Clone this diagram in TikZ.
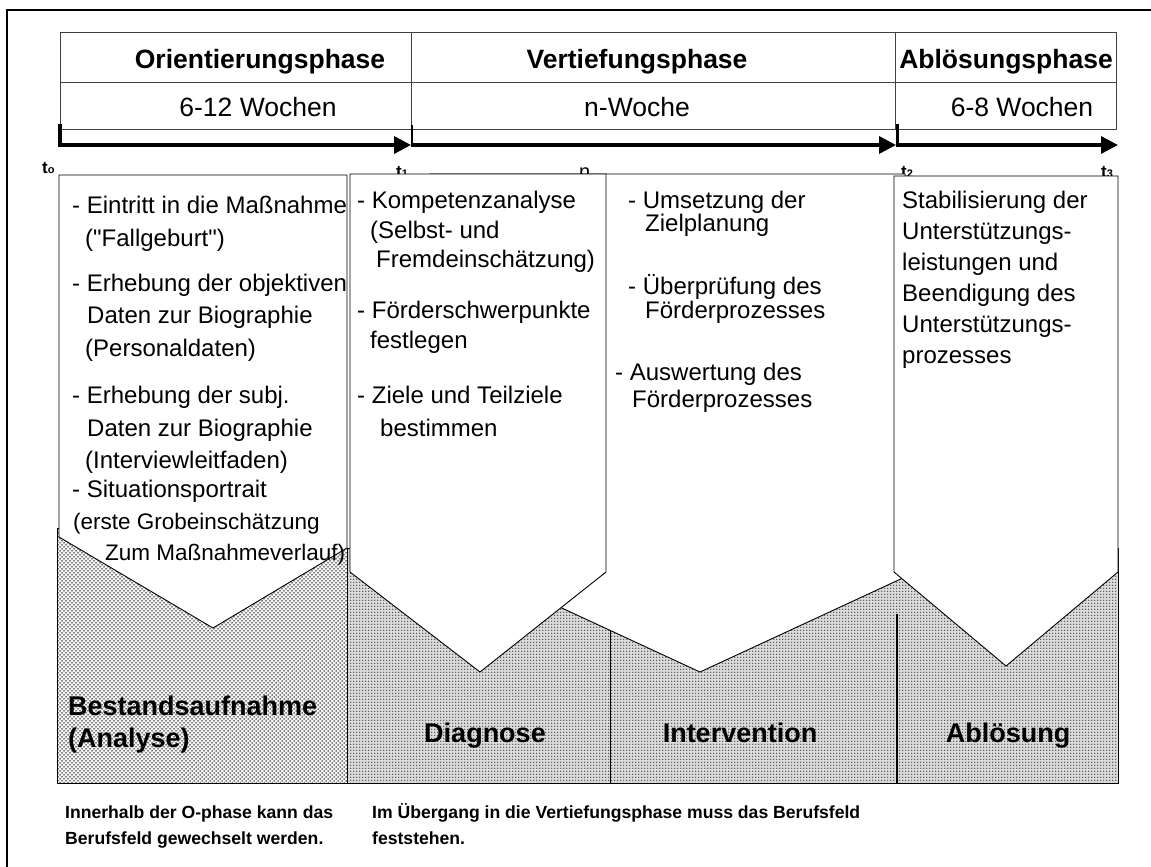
\documentclass[tikz,border=0pt]{standalone}
\usepackage{fontspec}
\setmainfont{Liberation Sans}[Ligatures=TeXOff]
\usetikzlibrary{arrows.meta,patterns}

\pgfdeclarepatternformonly{sparsedots}{\pgfqpoint{-1pt}{-1pt}}{\pgfqpoint{3pt}{3pt}}{\pgfqpoint{4pt}{4pt}}{%
  \pgfpathcircle{\pgfqpoint{0pt}{0pt}}{0.75pt}%
  \pgfpathcircle{\pgfqpoint{2pt}{2pt}}{0.75pt}%
  \pgfusepath{fill}}
\pgfdeclarepatternformonly{gridots}{\pgfqpoint{-1pt}{-1pt}}{\pgfqpoint{2pt}{2pt}}{\pgfqpoint{3pt}{3pt}}{%
  \pgfpathcircle{\pgfqpoint{0pt}{0pt}}{0.75pt}%
  \pgfusepath{fill}}

\tikzset{
  tbl/.style={draw=black!75, line width=1pt},
  axisline/.style={line width=3.4pt, -{Triangle[length=17pt,width=17pt]}},
  hdr/.style={font=\fontsize{26.5}{30}\selectfont\bfseries, anchor=base, inner sep=0pt},
  hdrsub/.style={font=\fontsize{26.5}{30}\selectfont, anchor=base, inner sep=0pt},
  tlab/.style={font=\fontsize{17}{17}\selectfont\bfseries, anchor=base west, inner sep=0pt},
  phasebox/.style={draw=black, line width=0.9pt, fill=white},
  bodytxt/.style={font=\fontsize{24}{28}\selectfont, anchor=base west, inner sep=0pt},
  smalltxt/.style={font=\fontsize{22.5}{26}\selectfont, anchor=base west, inner sep=0pt},
  stagelbl/.style={font=\fontsize{27}{30}\selectfont\bfseries, inner sep=0pt},
  notetxt/.style={font=\fontsize{17.6}{20}\selectfont\bfseries, anchor=base west, inner sep=0pt},
}

\newcommand{\tsub}[1]{{\fontsize{11}{11}\selectfont #1}}

\begin{document}
\begin{tikzpicture}[x=1pt,y=-1pt]
\useasboundingbox (0,0) rectangle (1151,867);
\fill[white] (0,0) rectangle (1151,867);

% outer frame (runs past the right and bottom edges)
\draw[line width=2pt] (1151,10) -- (7,10) -- (7,867);

% header table
\draw[tbl] (60,33) rectangle (1116,129);
\draw[tbl] (60,82) -- (1116,82);
\draw[tbl] (411,33) -- (411,129);
\draw[tbl] (895,33) -- (895,129);
\node[hdr] (h1) at (260,68) {Orientierungsphase};
\node[hdr] (h2) at (637,68) {Vertiefungsphase};
\node[hdr] (h3) at (1006,68) {Ablösungsphase};
\node[hdrsub] (w1) at (258,116) {6-12 Wochen};
\node[hdrsub] (w2) at (637,116) {n-Woche};
\node[hdrsub] (w3) at (1022,116) {6-8 Wochen};

% time axis
\coordinate (a0) at (60,145);
\coordinate (a1) at (411,145);
\coordinate (a2) at (896,145);
\coordinate (a3) at (1118,145);
\draw[axisline] (a0) -- (a1);
\draw[axisline] (a1) -- (a2);
\draw[axisline] (a2) -- (a3);
\draw[line width=3.6pt] (60,124) -- (60,147);
\draw[line width=1.5pt] (412,125) -- (412,145);
\draw[line width=3pt] (897,124) -- (897,145);

% time labels
\node[tlab] (t0) at (42,173) {t\tsub{o}};
\node[tlab] (t1) at (396,177) {t\tsub{1}};
\node[font=\fontsize{20}{20}\selectfont, anchor=base west, inner sep=0pt] (tn) at (579,178) {n};
\node[tlab] (t2) at (901,177) {t\tsub{2}};
\node[tlab] (t3) at (1101,177) {t\tsub{3}};

% patterned stage regions
\fill[gray!8] (57,528) rectangle (347,783);
\fill[pattern=sparsedots, pattern color=black] (57,528) rectangle (347,783);
\fill[gray!28] (347,548) rectangle (1118,784);
\fill[pattern=gridots, pattern color=black!80] (347,548) rectangle (1118,784);
\draw[line width=0.8pt] (57,783) -- (57,528) -- (347,528);
\draw[line width=0.8pt] (347,548) -- (1118,548) -- (1118,784);
\draw[line width=1.6pt] (57,783.5) -- (1118,783.5);
\draw[line width=1pt] (347,548) -- (347,783);
\draw[line width=1pt] (610,628) -- (610,783);
\draw[line width=2.6pt] (897,614) -- (897,783);

% phase boxes (pentagons)
\draw[phasebox] (430,174) -- (905,174) -- (905,577) -- (700,672) -- (430,547) -- cycle;
\draw[phasebox] (350,174) -- (606,174) -- (606,572) -- (480,672) -- (350,572) -- cycle;
\draw[phasebox] (59,175) -- (347,175) -- (347,548) -- (213,628) -- (59,537) -- cycle;
\draw[phasebox] (894,176) -- (1118,176) -- (1118,572) -- (1006,666) -- (894,572) -- cycle;

% box 1 text
\node[bodytxt] (b1a) at (72,213) {- Eintritt in die Maßnahme};
\node[bodytxt] (b1b) at (85,246) {("Fallgeburt")};
\node[bodytxt] (b1c) at (72,291) {- Erhebung der objektiven};
\node[bodytxt] (b1d) at (87,323) {Daten zur Biographie};
\node[bodytxt] (b1e) at (85,356) {(Personaldaten)};
\node[bodytxt] (b1f) at (72,403) {- Erhebung der subj.};
\node[bodytxt] (b1g) at (87,436) {Daten zur Biographie};
\node[bodytxt] (b1h) at (85,468) {(Interviewleitfaden)};
\node[bodytxt] (b1i) at (72,497) {- Situationsportrait};
\node[smalltxt] (b1j) at (73,529) {(erste Grobeinschätzung};
\node[smalltxt] (b1k) at (105,560) {Zum Maßnahmeverlauf)};

% box 2 text
\node[bodytxt] (b2a) at (357,208) {- Kompetenzanalyse};
\node[bodytxt] (b2b) at (370,238) {(Selbst- und};
\node[bodytxt] (b2c) at (376,267) {Fremdeinschätzung)};
\node[bodytxt] (b2d) at (357,318) {- Förderschwerpunkte};
\node[bodytxt] (b2e) at (370,348) {festlegen};
\node[bodytxt] (b2f) at (357,403) {- Ziele und Teilziele};
\node[bodytxt] (b2g) at (380,436) {bestimmen};

% box 3 text
\node[bodytxt] (b3a) at (628,208) {- Umsetzung der};
\node[bodytxt] (b3b) at (645,231) {Zielplanung};
\node[bodytxt] (b3c) at (628,294) {- Überprüfung des};
\node[bodytxt] (b3d) at (645,318) {Förderprozesses};
\node[bodytxt] (b3e) at (615,380) {- Auswertung des};
\node[bodytxt] (b3f) at (632,407) {Förderprozesses};

% box 4 text
\node[bodytxt] (b4a) at (902,208) {Stabilisierung der};
\node[bodytxt] (b4b) at (902,239) {Unterstützungs-};
\node[bodytxt] (b4c) at (902,270) {leistungen und};
\node[bodytxt] (b4d) at (902,301) {Beendigung des};
\node[bodytxt] (b4e) at (902,332) {Unterstützungs-};
\node[bodytxt] (b4f) at (902,363) {prozesses};

% stage labels
\node[stagelbl, anchor=base west] (s1a) at (68,715) {Bestandsaufnahme};
\node[stagelbl, anchor=base west] (s1b) at (68,747) {(Analyse)};
\node[stagelbl, anchor=base] (s2) at (485,742) {Diagnose};
\node[stagelbl, anchor=base] (s3) at (740,742) {Intervention};
\node[stagelbl, anchor=base] (s4) at (1008,742) {Ablösung};

% notes
\node[notetxt] (n1a) at (65,818) {Innerhalb der O-phase kann das};
\node[notetxt] (n1b) at (65,844) {Berufsfeld gewechselt werden.};
\node[notetxt] (n2a) at (372,818) {Im Übergang in die Vertiefungsphase muss das Berufsfeld};
\node[notetxt] (n2b) at (372,844) {feststehen.};
\end{tikzpicture}
\end{document}
